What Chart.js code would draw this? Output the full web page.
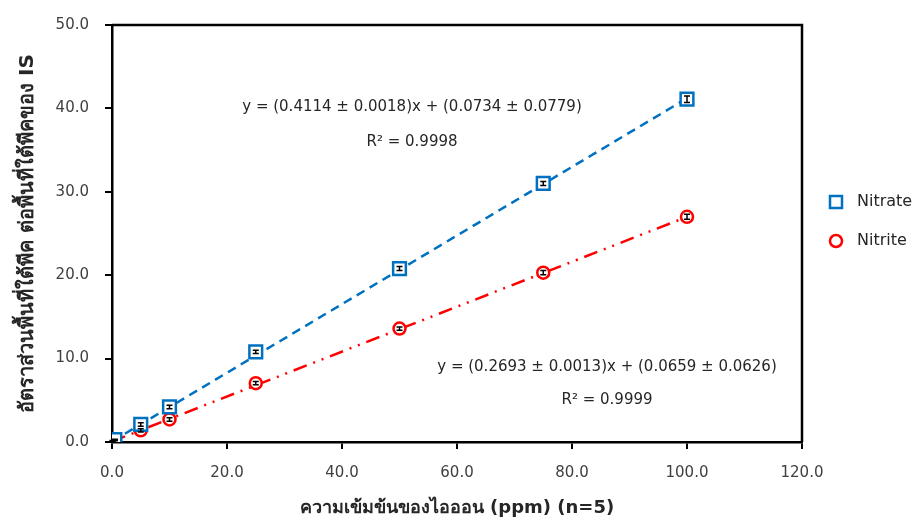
<!DOCTYPE html>
<html>
<head>
<meta charset="utf-8">
<script src="https://cdn.jsdelivr.net/npm/chart.js@4/dist/chart.umd.min.js"></script>
<style>
  html, body { margin: 0; padding: 0; background: #fff; }
  #wrap { width: 915px; height: 520px; position: relative; }
</style>
</head>
<body>
<div id="wrap"><canvas id="calChart"></canvas></div>
<script>
const FONT = "Tahoma, 'DejaVu Sans', 'Noto Sans', sans-serif";

// concentrations (ppm)
const conc = [0.1, 0.5, 5, 10, 25, 50, 75, 100];
const nitrate = [0.12, 0.28, 2.1, 4.2, 10.8, 20.8, 31.0, 41.1];
const nitrateErr = [0.05, 0.05, 0.2, 0.2, 0.2, 0.25, 0.25, 0.4];
const nitrite = [0.08, 0.2, 1.4, 2.7, 7.05, 13.6, 20.3, 27.0];
const nitriteErr = [0.05, 0.05, 0.2, 0.2, 0.2, 0.2, 0.25, 0.3];

const nitrateFit = [0.4114, 0.0734];
const nitriteFit = [0.2693, 0.0659];
const fitRange = [0, 100];

const xTicks = [0, 20, 40, 60, 80, 100, 120];
const yTicks = [0, 10, 20, 30, 40, 50];

const blue = '#0070C0';
const red = '#FF0000';

function pts(xs, ys) {
  return xs.map((x, i) => ({ x: x, y: ys[i] }));
}
function fitLine(f) {
  return fitRange.map(x => ({ x: x, y: f[0] * x + f[1] }));
}

const errorBars = {
  id: 'errorBars',
  afterDatasetsDraw(chart) {
    const ctx = chart.ctx;
    const ys = chart.scales.y;
    chart.data.datasets.forEach((ds, i) => {
      if (!ds.err) return;
      const meta = chart.getDatasetMeta(i);
      ctx.save();
      ctx.strokeStyle = '#000';
      ctx.lineWidth = 1.5;
      meta.data.forEach((p, j) => {
        const v = ds.data[j].y;
        const top = ys.getPixelForValue(v + ds.err[j]);
        const bot = ys.getPixelForValue(v - ds.err[j]);
        ctx.beginPath();
        ctx.moveTo(p.x, top); ctx.lineTo(p.x, bot);
        ctx.moveTo(p.x - 3, top); ctx.lineTo(p.x + 3, top);
        ctx.moveTo(p.x - 3, bot); ctx.lineTo(p.x + 3, bot);
        ctx.stroke();
      });
      ctx.restore();
    });
  }
};

const frame = {
  id: 'frame',
  afterDraw(chart) {
    const a = chart.chartArea;
    const ctx = chart.ctx;
    ctx.save();
    ctx.strokeStyle = '#000';
    ctx.lineWidth = 2.5;
    ctx.beginPath();
    ctx.moveTo(a.left, a.top); ctx.lineTo(a.right, a.top); ctx.lineTo(a.right, a.bottom);
    ctx.stroke();
    ctx.restore();
  }
};

const notes = {
  id: 'notes',
  afterDraw(chart) {
    const ctx = chart.ctx;
    ctx.save();
    ctx.fillStyle = '#262626';
    ctx.font = '15px ' + FONT;
    ctx.textAlign = 'center';
    ctx.textBaseline = 'middle';
    ctx.fillText('y = (0.4114 ± 0.0018)x + (0.0734 ± 0.0779)', 412, 107);
    ctx.fillText('R² = 0.9998', 412, 142);
    ctx.fillText('y = (0.2693 ± 0.0013)x + (0.0659 ± 0.0626)', 607, 367);
    ctx.fillText('R² = 0.9999', 607, 400);

    // legend
    ctx.textAlign = 'left';
    ctx.font = '16px ' + FONT;
    ctx.lineWidth = 2.5;
    ctx.strokeStyle = blue;
    ctx.strokeRect(830, 196, 12, 12);
    ctx.fillText('Nitrate', 857, 202);
    ctx.strokeStyle = red;
    ctx.beginPath();
    ctx.arc(836, 241, 6, 0, Math.PI * 2);
    ctx.stroke();
    ctx.fillText('Nitrite', 857, 241);
    ctx.restore();
  }
};

new Chart(document.getElementById('calChart'), {
  type: 'scatter',
  data: {
    datasets: [
      {
        label: 'Nitrate fit', type: 'line', data: fitLine(nitrateFit),
        borderColor: blue, borderWidth: 2.5, borderDash: [9, 6],
        pointRadius: 0, fill: false, order: 3
      },
      {
        label: 'Nitrite fit', type: 'line', data: fitLine(nitriteFit),
        borderColor: red, borderWidth: 2.5, borderDash: [14, 7, 2, 7, 2, 7],
        pointRadius: 0, fill: false, order: 3
      },
      {
        label: 'Nitrate', data: pts(conc, nitrate), err: nitrateErr,
        pointStyle: 'rect', pointRadius: 9, borderColor: blue, borderWidth: 2.5,
        backgroundColor: '#fff', order: 1
      },
      {
        label: 'Nitrite', data: pts(conc, nitrite), err: nitriteErr,
        pointStyle: 'circle', pointRadius: 6, borderColor: red, borderWidth: 2.5,
        backgroundColor: '#fff', order: 2
      }
    ]
  },
  options: {
    responsive: true,
    maintainAspectRatio: false,
    animation: false,
    layout: { padding: { top: 24, right: 113, left: 0, bottom: 0 } },
    plugins: { legend: { display: false }, tooltip: { enabled: false } },
    scales: {
      x: {
        type: 'linear', min: 0, max: 120,
        afterFit(s) { s.height = 78; },
        afterBuildTicks(s) { s.ticks = xTicks.map(v => ({ value: v })); },
        grid: { drawOnChartArea: false, drawTicks: true, tickLength: 7, color: '#000', lineWidth: 2 },
        border: { display: true, color: '#000', width: 2.5 },
        ticks: { color: '#404040', font: { family: FONT, size: 15 }, padding: 15,
                 callback: v => v.toFixed(1) },
        title: { display: true, text: 'ความเข้มข้นของไอออน (ppm) (n=5)', color: '#262626',
                 font: { family: FONT, size: 18, weight: 'bold' }, padding: { top: 0, bottom: 1 } }
      },
      y: {
        type: 'linear', min: 0, max: 50,
        afterFit(s) { s.width = 112; },
        afterBuildTicks(s) { s.ticks = yTicks.map(v => ({ value: v })); },
        grid: { drawOnChartArea: false, drawTicks: true, tickLength: 7, color: '#000', lineWidth: 2 },
        border: { display: true, color: '#000', width: 2.5 },
        ticks: { color: '#404040', font: { family: FONT, size: 15 }, padding: 16,
                 callback: v => v.toFixed(1) },
        title: { display: true, text: 'อัตราส่วนพื้นที่ใต้พีค ต่อพื้นที่ใต้พีคของ IS', color: '#262626',
                 font: { family: FONT, size: 20, weight: 'bold' }, padding: { top: 16, bottom: 0 } }
      }
    }
  },
  plugins: [errorBars, frame, notes]
});
</script>
</body>
</html>
